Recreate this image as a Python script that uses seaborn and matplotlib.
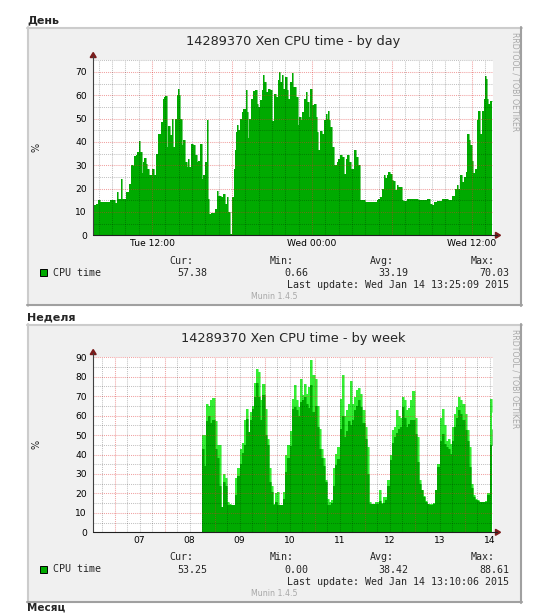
import numpy as np
import pandas as pd
import matplotlib
matplotlib.use("Agg")
import matplotlib.pyplot as plt
import seaborn as sns
from matplotlib.patches import Rectangle, Polygon
from matplotlib.lines import Line2D

# ---------------- data ----------------
# Day graph: step start times in hours relative to Tue 12:00, CPU time in %
day_hours = [
    -4.43, -4.2, -4.03, -3.9, -3.15, -2.78, -2.6, -2.53, -2.33, -2.25,
    -1.95, -1.7, -1.6, -1.45, -1.33, -1.2, -1.1, -0.98, -0.88, -0.78,
    -0.7, -0.6, -0.45, -0.35, -0.23, 0.03, 0.15, 0.3, 0.48, 0.65,
    0.8, 0.9, 1.0, 1.15, 1.23, 1.35, 1.48, 1.6, 1.73, 1.85,
    1.93, 2.0, 2.1, 2.23, 2.35, 2.45, 2.6, 2.68, 2.8, 2.95,
    3.05, 3.25, 3.35, 3.48, 3.6, 3.75, 3.85, 3.98, 4.1, 4.2,
    4.3, 4.4, 4.73, 4.9, 4.98, 5.15, 5.35,
    5.48, 5.6, 5.73, 5.85, 5.98, 6.15, 6.23, 6.3, 6.38, 6.48,
    6.6, 6.73, 6.85, 7.03, 7.1, 7.23, 7.3, 7.43, 7.6, 7.73,
    7.85, 7.98, 8.1, 8.23, 8.35, 8.43, 8.53, 8.68, 8.85, 8.98,
    9.15, 9.28, 9.43, 9.53, 9.6, 9.73, 9.85, 9.98, 10.1, 10.23,
    10.35, 10.48, 10.6, 10.78, 10.93, 11.03, 11.15, 11.28, 11.4, 11.53,
    11.63, 11.78, 11.88, 12.03, 12.18, 12.28, 12.38, 12.48, 12.6, 12.73,
    12.9, 13.03, 13.13, 13.23, 13.3, 13.38, 13.48, 13.65, 13.85, 13.98,
    14.1, 14.23, 14.4, 14.53, 14.65, 14.78, 14.93, 15.18, 15.3, 15.48,
    15.6, 15.98, 16.85, 16.98, 17.1, 17.25, 17.4, 17.5, 17.6, 17.73,
    17.85, 17.98, 18.1, 18.23, 18.35, 18.48, 18.73, 18.85, 19.1, 19.35,
    19.98, 20.6, 20.85, 20.98, 21.15, 21.35, 21.73, 21.98, 22.23, 22.48,
    22.73, 22.85, 22.98, 23.1, 23.23, 23.4, 23.55, 23.65, 23.75, 23.85,
    23.98, 24.1, 24.23, 24.35, 24.48, 24.6, 24.75, 24.9, 24.98, 25.05,
    25.13, 25.2, 25.35,
]
day_cpu = [
    13, 13.5, 15, 14.2, 15, 14, 18.5, 15.7, 24, 15.7,
    18.5, 22, 30, 29.6, 34, 34.5, 35.7, 40.3, 35.7, 26.6,
    31.4, 33, 30.7, 28.6, 25.7, 28.6, 26, 35, 43.6, 48.6,
    58.6, 59.3, 59.7, 37.9, 47, 42.9, 50, 38, 50, 60,
    62.9, 60, 50, 38.6, 40.7, 31.4, 29.3, 32.9, 29.3, 39.3,
    38.6, 34.3, 31.4, 32, 39.3, 24.3, 25.7, 31.4, 49.3, 15.7,
    9.3, 9.7, 11.4, 18.9, 17, 16.4, 17.9,
    13.6, 16.4, 10, 0.66, 16.4, 28.6, 36.4, 44.3, 47.4, 45,
    50, 52.9, 54.3, 62.4, 52.9, 41.7, 50, 58.6, 61.7, 62.1,
    56.4, 55, 57.9, 62.1, 68.6, 65.7, 61.4, 62.9, 62.1, 48.9,
    60.7, 59.3, 66.4, 70.03, 65.7, 68.6, 62.9, 67.9, 62.1, 58.6,
    65.7, 69.5, 63.6, 59.3, 47.1, 50.7, 49.3, 52.9, 58.6, 61.4,
    57.1, 50.7, 62.9, 55.7, 56.4, 50.7, 44.3, 36.7, 44.6, 43.6,
    49.3, 52.1, 50, 53.1, 49.3, 46.4, 37.9, 30, 31.4, 32.9,
    34.3, 33.6, 26.4, 32.9, 34.6, 31.4, 28.6, 36.4, 33.6, 30,
    15, 14.3, 15, 15.7, 16.4, 20, 26, 24.6, 25.7, 27.1,
    26.4, 23.6, 23.1, 19.3, 21.4, 20.7, 15, 14.6, 15.7, 15.4,
    15.3, 15.7, 13.6, 12.9, 14.3, 14.7, 15.4, 15.7, 15, 16.7,
    20, 21.4, 19.7, 25.7, 22.9, 25, 27.1, 43.6, 40.7, 38.6,
    31.7, 26.9, 28.6, 49.3, 53.3, 43.3, 53.3, 58.6, 68.1, 67.1,
    58.6, 56.4, 57.38,
]
day_end = 25.5

# Week graph: hourly values starting 18:00 on Jan 08
week_first_hour = 18
week_avg = [
    43, 34, 57, 60, 56, 58, 43, 38, 24, 13,
    26, 24, 14, 14, 14, 14, 19, 29, 35, 41,
    45, 58.5, 51.6, 57.5, 63.6, 69.6, 77, 69.5, 57.5, 70.5,
    50, 45, 26, 20.7, 14, 15.6, 14, 14, 14, 17,
    31, 38, 44.5, 63.6, 64.3, 63, 60, 67, 68, 69.6,
    66, 64, 75.6, 62, 65, 54, 43, 38, 34, 26,
    14, 14.2, 15, 24, 34.5, 37.5, 53, 60, 49, 52,
    57, 55, 58, 62.7, 65, 68, 64.5, 56, 48, 30,
    14.7, 14.5, 14.5, 14.7, 14.7, 16, 14.5, 15, 16.5, 24,
    37, 46, 49, 51, 53, 54, 64.5, 59, 54, 55.5,
    57.6, 57.6, 50.7, 36, 25, 21.6, 18, 15.4, 14.5, 13.9,
    14.2, 14.7, 21.6, 33.6, 47, 50.7, 45.6, 44, 43, 40.5,
    47, 54, 59, 62.7, 61, 57.6, 52.5, 47, 33.6, 23,
    18, 16.5, 16, 15.6, 15.4, 15.4, 15.6, 19, 45, 53.25,
]
week_max = [
    50, 50, 66, 65, 68, 69, 57, 45, 45, 13,
    30, 28, 15.6, 14.5, 14, 14, 28, 33, 43, 46,
    58, 63.6, 51.6, 62, 65, 77, 84, 82.5, 68, 76.5,
    63.6, 48, 33, 24, 14.7, 20, 20.7, 14, 14, 20.7,
    39.6, 44.7, 52, 68.7, 75.6, 68, 64.5, 79, 70.5, 76.5,
    71, 74.7, 88.61, 80.7, 79, 65, 53, 43, 38, 26.7,
    17, 15.6, 16.5, 33, 40.5, 44, 68.7, 80.7, 60, 62.7,
    66, 78, 66, 69.6, 73, 74, 71, 62.7, 54, 44,
    15.6, 14.7, 14.7, 15.5, 15.5, 22, 15, 18, 18, 27,
    40, 52.5, 54, 62.7, 60, 59, 69.6, 68, 62.7, 64,
    68, 72.7, 59, 49, 27, 22, 18.5, 16, 14.7, 14.5,
    14.7, 15, 22, 35, 59, 63.6, 55, 47, 48, 45.6,
    54, 61, 64.5, 69.6, 68, 66, 61, 52.5, 44, 25,
    19, 17, 16.5, 15.6, 15.6, 15.6, 16, 20, 68.7, 62,
]
week_end_day = 14.55

day_tick_hours = [0, 12, 24]
day_tick_labels = ["Tue 12:00", "Wed 00:00", "Wed 12:00"]
week_tick_days = [7.5, 8.5, 9.5, 10.5, 11.5, 12.5, 13.5, 14.5]
week_tick_labels = ["07", "08", "09", "10", "11", "12", "13", "14"]

stat_names = ["Cur:", "Min:", "Avg:", "Max:"]
day_stats = ["57.38", "0.66", "33.19", "70.03"]
week_stats = ["53.25", "0.00", "38.42", "88.61"]
day_update = "Last update: Wed Jan 14 13:25:09 2015"
week_update = "Last update: Wed Jan 14 13:10:06 2015"

# ---------------- style ----------------
sns.set_style("white")
plt.rcParams["font.family"] = ["DejaVu Sans"]

W, H = 553, 613
fig = plt.figure(figsize=(W / 100, H / 100), dpi=100)
fig.patch.set_facecolor("white")

GREEN = "#00aa00"
LIGHT = "#33ee33"
MONO = "DejaVu Sans Mono"
ARROW = "#7a1c1c"


def fx(x):
    return x / W


def fy(y):
    return 1 - y / H


def ftext(x, y, s, **kw):
    fig.text(fx(x), fy(y), s, **kw)


def area(ax, xs, ys, end, color):
    x = np.append(np.asarray(xs, float), end)
    y = np.append(np.asarray(ys, float), ys[-1])
    ax.fill_between(x, y, step="post", color=color, lw=0, zorder=2)
    sns.lineplot(x=x, y=y, drawstyle="steps-post", color=color, lw=0.4,
                 ax=ax, zorder=2, legend=False, estimator=None)


def panel(T, header, title, xlim, ytop, xmajor, xminor, tick_pos, tick_lab,
          stats, update):
    # header
    ftext(27, T - 3.5, header, fontsize=8, fontweight="bold", va="baseline")
    # box
    fig.add_artist(Rectangle((fx(27), fy(T + 279)), 495 / W, 279 / H,
                             transform=fig.transFigure, facecolor="#f0f0f0",
                             edgecolor="none", zorder=0))
    lw = 1.5
    fig.add_artist(Line2D([fx(27), fx(522)], [fy(T + 0.7)] * 2, color="#cccccc", lw=lw))
    fig.add_artist(Line2D([fx(27.7)] * 2, [fy(T), fy(T + 279)], color="#cccccc", lw=lw))
    fig.add_artist(Line2D([fx(521.3)] * 2, [fy(T), fy(T + 279)], color="#a0a0a0", lw=lw))
    fig.add_artist(Line2D([fx(27), fx(522)], [fy(T + 278.3)] * 2, color="#a0a0a0", lw=lw))

    ax = fig.add_axes([fx(93), fy(T + 208.3), 400 / W, 175 / H])
    ax.set_facecolor("white")
    ax.set_xlim(*xlim)
    ax.set_ylim(0, ytop)
    for s in ax.spines.values():
        s.set_visible(False)

    # grid (drawn above the data, as rrdtool does)
    dots = (0, (1, 1))
    for v in np.arange(5, ytop + 0.1, 5):
        major = (v % 10 == 0)
        ax.axhline(v, color="#e03030" if major else "#000000",
                   alpha=0.45 if major else 0.24, lw=0.75, ls=dots, zorder=3,
                   clip_on=False)
    for v in xminor:
        ax.axvline(v, color="#000000", alpha=0.24, lw=0.75, ls=dots, zorder=3)
    for v in xmajor:
        ax.axvline(v, color="#e03030", alpha=0.45, lw=0.75, ls=dots, zorder=3)

    ax.set_yticks(np.arange(0, ytop + 0.1, 10))
    ax.set_yticklabels([f"{int(v)}" for v in np.arange(0, ytop + 0.1, 10)])
    ax.set_xticks(tick_pos)
    ax.set_xticklabels(tick_lab)
    ax.tick_params(axis="y", length=0, labelsize=6.6, pad=4.3, colors="black")
    ax.tick_params(axis="x", length=0, labelsize=6.6, pad=3.0, colors="black")
    ax.set_xlabel("")
    ax.set_ylabel("")

    # axes lines with arrows
    y0 = T + 208.3
    fig.add_artist(Line2D([fx(93.2)] * 2, [fy(y0), fy(T + 29)], color="#404040", lw=0.8))
    fig.add_artist(Line2D([fx(93), fx(497)], [fy(y0)] * 2, color="#202020", lw=0.8))
    fig.add_artist(Polygon([(fx(93.2), fy(T + 25.5)), (fx(90.2), fy(T + 30.5)),
                            (fx(96.2), fy(T + 30.5))], closed=True,
                           transform=fig.transFigure, color=ARROW))
    fig.add_artist(Polygon([(fx(500.5), fy(y0)), (fx(495.5), fy(y0 - 3)),
                            (fx(495.5), fy(y0 + 3))], closed=True,
                           transform=fig.transFigure, color=ARROW))

    # texts
    ftext(293, T + 18.5, title, fontsize=9.3, ha="center", va="baseline")
    ftext(37, T + 120, "%", fontsize=7, rotation=90, ha="center", va="center")
    ftext(515, T + 5.3, "RRDTOOL / TOBI OETIKER", fontsize=5.6, rotation=270,
          color="#a8a8a8", ha="center", va="top")
    fig.add_artist(Rectangle((fx(40), fy(T + 248.5)), 6.5 / W, 7 / H,
                             transform=fig.transFigure, facecolor=GREEN,
                             edgecolor="black", lw=0.7))
    ftext(53, T + 248.5, "CPU time", family=MONO, fontsize=7.2, va="baseline")
    name_r = [193, 294, 394, 495]
    val_r = [207, 308, 408, 509]
    for n, xr in zip(stat_names, name_r):
        ftext(xr, T + 236.5, n, family=MONO, fontsize=7.2, ha="right", va="baseline")
    for v, xr in zip(stats, val_r):
        ftext(xr, T + 249, v, family=MONO, fontsize=7.2, ha="right", va="baseline")
    ftext(509, T + 260.7, update, family=MONO, fontsize=7.2, ha="right", va="baseline")
    ftext(251, T + 272, "Munin 1.4.5", fontsize=5.7, color="#a8a8a8", va="baseline")
    return ax


# ---------------- day panel ----------------
ax_day = panel(27, "День", "14289370 Xen CPU time - by day", (-4.425, 25.575), 75,
               [0, 6, 12, 18, 24],
               [h for h in range(-4, 26) if h % 6 != 0],
               day_tick_hours, day_tick_labels, day_stats, day_update)
area(ax_day, day_hours, day_cpu, day_end, GREEN)

# ---------------- week panel ----------------
week_days = 8 + (week_first_hour + np.arange(len(week_avg))) / 24.0
week_major = list(range(7, 15))
week_minor = [d / 4 for d in range(27, 59) if d % 4 != 0]
ax_week = panel(324, "Неделя", "14289370 Xen CPU time - by week", (6.57, 14.57), 90,
                week_major, week_minor, week_tick_days, week_tick_labels,
                week_stats, week_update)
area(ax_week, week_days, week_max, week_end_day, LIGHT)
area(ax_week, week_days, week_avg, week_end_day, GREEN)

# next section header at the bottom edge
ftext(27, 611, "Месяц", fontsize=7.5, fontweight="bold", va="baseline")

fig.savefig("out.png", dpi=100, facecolor="white")
